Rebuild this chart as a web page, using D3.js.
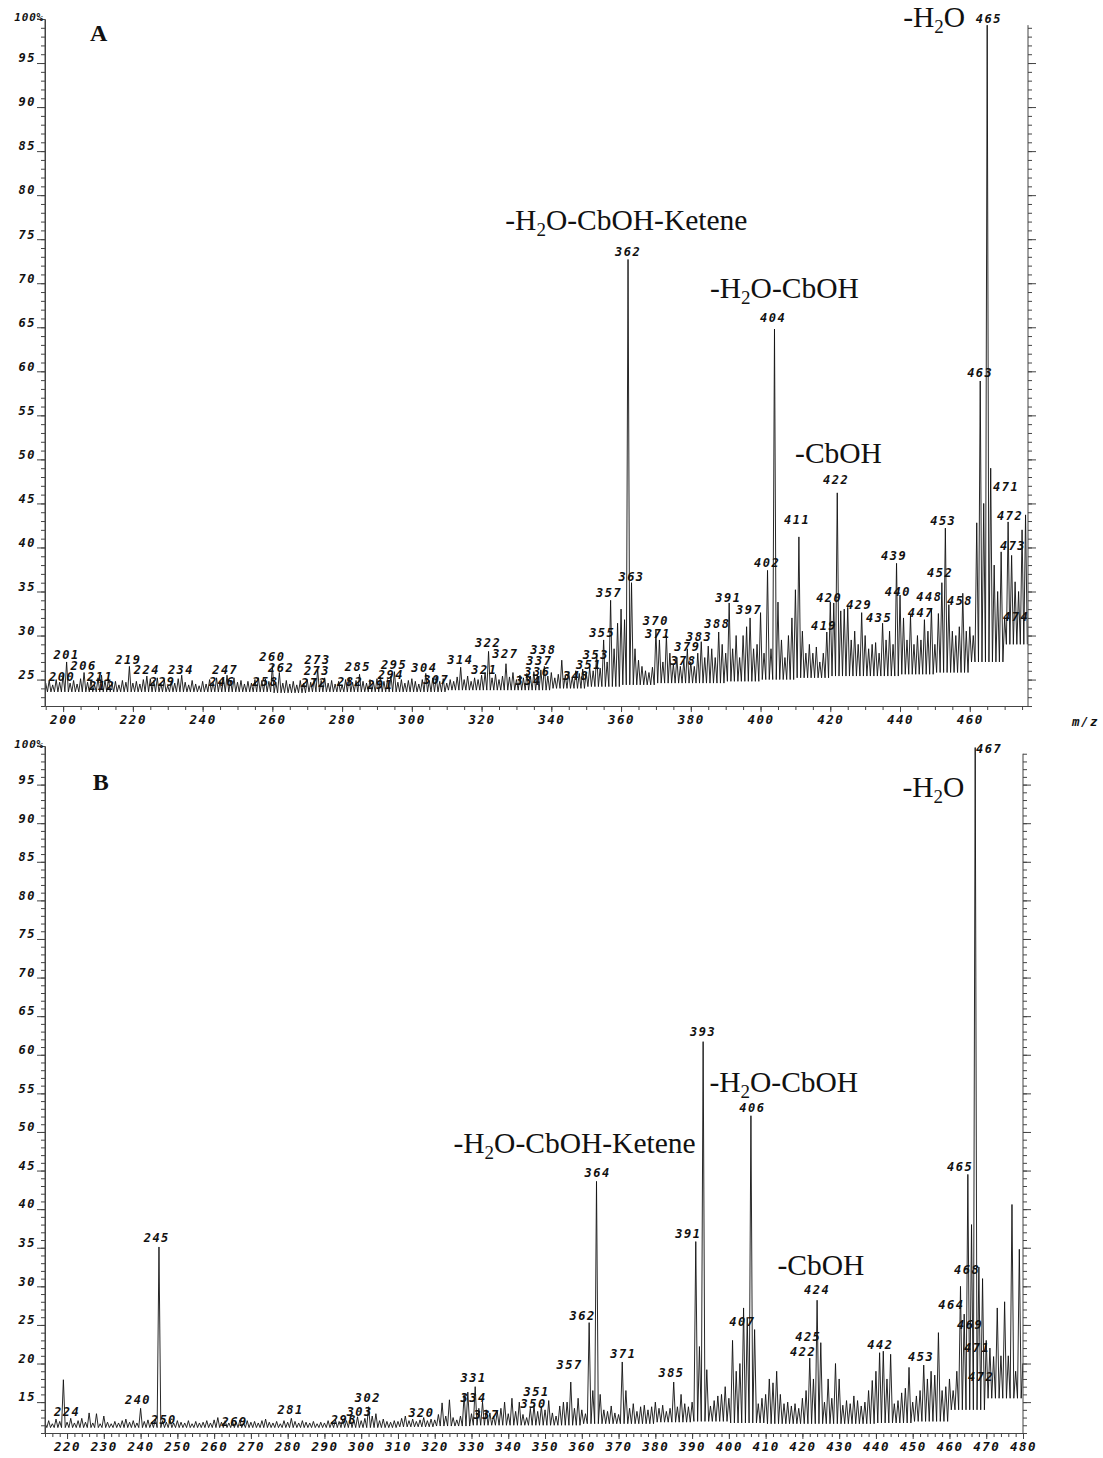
<!DOCTYPE html>
<html>
<head>
<meta charset="utf-8">
<script src="https://cdn.jsdelivr.net/npm/d3@7"></script>
<style>
body { margin:0; background:#fff; }
.tk { font-family:"DejaVu Sans Mono", monospace; font-weight:bold; font-style:italic; font-size:12px; letter-spacing:1.5px; fill:#111; }
.ann { font-family:"Liberation Serif", "Times New Roman", serif; font-size:29.5px; fill:#111; }
.let { font-family:"Liberation Serif", "Times New Roman", serif; font-size:24px; font-weight:bold; fill:#111; }
.axis path, .axis line { stroke:#444; }
</style>
</head>
<body>
<script>
// spectrum A: relative intensity (%) per integer m/z, starting at 195
const startA = 195;
const intensA = [
  24.6, 24.9, 24.4, 25.0, 24.7,
  25.6, 27.0, 24.6, 24.9, 24.5, 25.1, 25.8, 24.7, 24.9, 24.4,
  25.2, 25.5, 24.9, 25.1, 24.6, 24.8, 24.4, 24.9, 24.7, 26.5,
  24.6, 24.8, 24.5, 25.0, 25.4, 25.1, 24.9, 25.2, 24.6, 25.0,
  24.3, 24.8, 24.6, 25.1, 25.5, 24.7, 24.4, 24.9, 24.5, 24.3,
  24.8, 24.5, 25.0, 24.7, 25.2, 24.8, 25.1, 25.5, 24.9, 25.2,
  24.7, 24.9, 24.5, 24.8, 24.6, 25.0, 25.2, 24.9, 25.1, 24.8,
  26.6, 24.7, 25.8, 24.6, 24.9, 24.5, 24.8, 24.4, 24.9, 24.6,
  25.0, 24.7, 25.1, 26.2, 24.9, 25.2, 24.6, 24.9, 24.5, 24.8,
  24.4, 25.0, 25.2, 24.7, 24.9, 25.6, 24.8, 24.6, 25.0, 24.7,
  25.1, 25.3, 24.8, 25.0, 25.4, 25.9, 24.7, 25.0, 24.6, 24.9,
  25.1, 24.8, 24.5, 25.0, 25.7, 24.9, 25.2, 25.3, 24.8, 25.1,
  24.6, 25.0, 24.8, 25.3, 26.4, 25.0, 25.4, 24.8, 25.2, 25.0,
  25.5, 25.8, 28.2, 25.2, 25.6, 25.0, 25.4, 26.8, 25.3, 25.8,
  25.0, 25.5, 25.2, 25.7, 25.4, 25.9, 25.6, 26.1, 26.5, 25.4,
  25.8, 25.2, 25.6, 27.2, 25.5, 25.9, 25.3, 26.0, 25.7, 26.2,
  25.8, 26.4, 26.0, 28.0, 26.3, 29.5, 27.0, 34.0, 28.5, 31.4,
  33.0, 31.8, 72.7, 36.0, 28.5, 27.2, 26.5, 26.0, 25.8, 26.4,
  30.6, 29.5, 27.0, 30.0, 28.0, 26.8, 27.5, 26.5, 27.2, 28.5,
  27.0, 26.5, 28.0, 29.3, 27.5, 28.8, 28.5, 27.5, 30.4, 29.0,
  28.0, 33.7, 28.5, 30.0, 27.5, 30.0, 31.0, 32.0, 28.5, 29.0,
  32.6, 28.0, 37.4, 28.5, 64.8, 33.8, 29.5, 27.5, 30.0, 32.0,
  35.2, 41.2, 30.5, 28.0, 29.0, 28.0, 28.7, 27.0, 28.0, 30.4,
  33.8, 33.7, 46.2, 32.8, 33.0, 33.2, 29.5, 30.5, 29.0, 32.6,
  30.0, 28.5, 29.0, 29.2, 28.0, 31.4, 29.5, 30.5, 29.0, 38.2,
  34.6, 32.0, 29.5, 32.3, 29.0, 30.0, 29.5, 31.8, 30.5, 33.1,
  29.0, 32.5, 36.0, 42.2, 33.5, 30.5, 30.0, 31.0, 34.8, 30.5,
  31.0, 30.0, 42.8, 58.9, 45.0, 99.3, 49.0, 38.0, 35.0, 39.5,
  32.0, 42.9, 39.1, 36.1, 35.0, 42.0, 43.7
];
// valley level of the trace, one value per decade from 190
const floorStartA = 190;
const floorA = [23.6, 23.6, 23.6, 23.6, 23.6, 23.6, 23.6, 23.5, 23.6, 23.6,
  23.6, 23.6, 23.8, 23.8, 23.8, 24.0, 24.2, 24.4, 24.6, 24.6,
  24.8, 25.0, 25.2, 25.4, 25.4, 25.6, 25.8, 27.0, 29.0];
// peak labels: [text, m/z, intensity of text baseline]
const labelsA = [
  ["201",201,27.3],["200",199.7,24.8],["206",205.9,26.1],["211",210.6,24.8],["212",211.2,23.8],
  ["219",218.7,26.8],["224",224,25.6],["229",228.5,24.3],["234",233.8,25.6],["247",246.5,25.6],
  ["246",245.6,24.3],["260",260,27.1],["262",262.5,25.9],["258",258,24.3],["273",273,26.8],
  ["273",272.8,25.5],["272",272,24.2],["285",284.5,26.0],["282",282.3,24.3],["295",294.9,26.2],
  ["294",294,25.1],["291",291,23.9],["304",303.6,25.9],["307",307,24.5],["314",313.9,26.8],
  ["322",321.9,28.7],["321",320.8,25.6],["327",326.8,27.4],["338",337.7,27.9],["337",336.6,26.6],
  ["336",336,25.4],["334",333.5,24.4],["348",347.1,25.0],["351",350.8,26.2],["353",352.8,27.3],
  ["355",354.6,29.8],["357",356.6,34.4],["362",362,73.1],["363",363,36.2],["370",370,31.2],
  ["371",370.6,29.7],["379",379,28.2],["378",377.9,26.6],["383",382.4,29.4],["388",387.6,30.8],
  ["391",390.8,33.8],["397",396.7,32.4],["402",401.9,37.8],["404",403.6,65.6],["411",410.5,42.7],
  ["420",419.7,33.8],["419",418.2,30.6],["422",421.7,47.2],["429",428.3,33.0],["435",434,31.5],
  ["439",438.3,38.6],["440",439.4,34.5],["447",446,32.1],["448",448.4,33.9],["452",451.5,36.6],
  ["453",452.4,42.5],["458",457.2,33.5],["463",463,59.3],["465",465.5,99.6],["471",470.4,46.4],
  ["472",471.6,43.1],["473",472.4,39.7],["474",473.3,31.6]
];
// fragment annotations: [text, m/z of text start, intensity of baseline]
const notesA = [
  ["-H2O", 440.9, 99.1],
  ["-H2O-CbOH-Ketene", 326.8, 76.0],
  ["-H2O-CbOH", 385.5, 68.3],
  ["-CbOH", 409.9, 49.6]
];
const xTicksA = d3.range(200, 461, 20);

// spectrum B, starting at 214
const startB = 214;
const intensB = [
  12.3, 12.6, 12.2, 12.8, 12.5, 17.9,
  12.4, 12.9, 12.3, 12.6, 12.9, 12.4, 13.6, 12.3, 13.5, 12.2,
  13.2, 12.4, 12.2, 12.5, 12.3, 12.6, 12.8, 12.4, 12.6, 12.3,
  14.2, 12.5, 12.7, 12.4, 12.8, 35.1, 12.6, 12.4, 12.7, 12.3,
  12.6, 12.4, 12.3, 12.6, 12.2, 12.5, 12.3, 12.4, 12.6, 12.3,
  12.7, 13.0, 12.4, 12.6, 12.3, 12.5, 12.4, 12.7, 12.3, 12.6,
  12.4, 12.5, 12.3, 12.6, 12.8, 12.4, 12.3, 12.5, 12.2, 12.6,
  12.4, 12.9, 12.5, 12.3, 12.6, 12.4, 12.3, 12.5, 12.2, 12.4,
  12.3, 12.6, 12.4, 12.7, 12.5, 12.8, 12.6, 12.9, 12.7, 13.1,
  12.6, 12.9, 14.4, 13.2, 13.5, 12.6, 12.8, 12.5, 12.4, 12.6,
  12.5, 12.9, 13.2, 12.6, 12.8, 12.5, 12.7, 13.0, 12.6, 12.8,
  12.7, 13.4, 14.9, 13.2, 15.3, 13.0, 12.7, 13.2, 16.0, 16.3,
  13.5, 17.0, 14.2, 15.0, 14.0, 13.6, 13.2, 13.8, 14.2, 15.0,
  13.5, 15.5, 13.8, 15.0, 13.4, 13.0, 14.2, 14.6, 13.8, 14.5,
  14.0, 15.2, 13.6, 13.2, 14.5, 15.0, 15.0, 17.6, 14.2, 15.5,
  14.0, 13.5, 25.3, 16.5, 43.6, 16.0, 14.0, 13.8, 14.5, 13.6,
  13.4, 20.2, 16.5, 14.2, 14.8, 13.8, 14.4, 14.6, 14.0, 14.4,
  15.0, 14.2, 14.6, 13.8, 14.2, 17.6, 14.4, 16.0, 14.8, 14.4,
  15.0, 35.8, 22.2, 61.7, 19.2, 14.5, 15.2, 15.8, 16.0, 17.0,
  15.5, 23.0, 19.0, 20.0, 27.2, 26.0, 52.1, 24.4, 14.8, 15.5,
  16.0, 18.0, 17.5, 19.0, 16.0, 14.8, 15.0, 14.5, 14.8, 14.2,
  15.5, 16.5, 20.7, 18.0, 28.2, 22.7, 15.0, 18.0, 15.5, 20.0,
  18.0, 14.6, 15.2, 14.8, 15.8, 15.2, 14.5, 15.0, 16.5, 17.8,
  19.0, 21.4, 21.6, 18.0, 21.2, 14.8, 15.2, 16.2, 16.8, 19.5,
  15.0, 15.8, 16.5, 19.8, 18.0, 19.0, 18.5, 24.0, 16.5, 17.0,
  18.0, 16.5, 19.0, 30.0, 26.4, 44.5, 38.0, 99.8, 32.5, 31.0,
  23.0, 22.0, 20.9, 27.2, 21.0, 28.0, 21.0, 40.6, 19.0, 34.8,
  20.0
];
const floorStartB = 210;
const floorB = [11.7, 11.7, 11.7, 11.7, 11.7, 11.7, 11.7, 11.7, 11.7, 11.7,
  11.8, 11.9, 12.0, 12.0, 12.0, 12.2, 12.2, 12.4, 12.5, 12.3,
  12.2, 12.2, 12.2, 12.3, 12.5, 14.0, 15.5, 15.5];
const labelsB = [
  ["224",220,13.2],["240",239.3,14.8],["245",244.4,35.8],["250",246.3,12.2],["269",265.6,11.9],
  ["281",280.8,13.5],["298",295.3,12.2],["303",299.6,13.2],["302",301.8,15.0],["320",316.4,13.1],
  ["331",330.6,17.6],["334",330.6,15.0],["337",334.1,12.8],["351",347.7,15.8],["350",346.9,14.2],
  ["357",356.7,19.3],["362",360.2,25.7],["364",364.3,44.2],["371",371.3,20.7],["385",384.4,18.3],
  ["391",389,36.2],["393",393,62.4],["406",406.4,52.6],["407",403.7,24.9],["422",420.2,21.0],
  ["424",424,29.0],["425",421.6,22.9],["442",441.2,21.9],["453",452.3,20.3],["464",460.5,27.0],
  ["465",462.9,45.0],["467",470.8,99.1],["468",464.8,31.6],["469",465.6,24.5],["471",467.5,21.5],
  ["472",468.6,17.7]
];
const notesB = [
  ["-H2O", 447.2, 93.4],
  ["-H2O-CbOH", 394.7, 55.2],
  ["-H2O-CbOH-Ketene", 325.1, 47.3],
  ["-CbOH", 413.2, 31.5]
];
const xTicksB = d3.range(220, 481, 10);

var svg = d3.select("body").append("svg").attr("width", 1103).attr("height", 1458);

function panel(p) { //{{{
	var x = d3.scaleLinear().domain(p.xDom).range([p.left, p.right]);
	var y = d3.scaleLinear().domain(p.yDom).range([p.bottom, p.top]);
	var g = svg.append("g");

	// trace
	var cid = "clip" + p.name;
	svg.append("clipPath").attr("id", cid).append("rect")
		.attr("x", p.left).attr("y", p.top - 10)
		.attr("width", p.right - p.left).attr("height", p.bottom - p.top + 10);
	var floorAt = function(m) {
		var k = Math.floor((m - p.floorStart) / 10);
		return p.floor[Math.max(0, Math.min(p.floor.length - 1, k))];
	};
	var pts = [[p.start - 0.5, floorAt(p.start)]];
	p.inten.forEach(function(v, i) {
		var m = p.start + i;
		pts.push([m, v]);
		pts.push([m + 0.5, floorAt(m + 0.5)]);
	});
	g.append("path").datum(pts)
		.attr("clip-path", "url(#" + cid + ")")
		.attr("fill", "none").attr("stroke", "#111").attr("stroke-width", 0.9)
		.attr("d", d3.line().x(d => x(d[0])).y(d => y(d[1])));

	// left axis
	var lo = Math.ceil(p.yDom[0]);
	g.append("g").attr("class", "axis").attr("transform", "translate(" + p.left + ",0)")
		.call(d3.axisLeft(y).tickValues(d3.range(lo, 101)).tickSize(4).tickSizeOuter(0).tickFormat(""));
	var ly = g.append("g").attr("class", "axis").attr("transform", "translate(" + p.left + ",0)")
		.call(d3.axisLeft(y).tickValues(d3.range(p.yLab0, 101, 5)).tickSize(8).tickSizeOuter(0).tickPadding(1)
			.tickFormat(d => d === 100 ? "100%" : d));
	ly.selectAll(".tick text").attr("class", "tk").attr("dy", "-0.1em")
		.filter(d => d === 100).style("font-size", "11px").style("letter-spacing", "0.8px").attr("x", -1).attr("dy", "0.15em");
	ly.select(".domain").attr("d", "M0," + y(100) + "V" + p.bottom);

	// right axis
	var ry = g.append("g").attr("class", "axis").attr("transform", "translate(" + p.right + ",0)")
		.call(d3.axisRight(y).tickValues(d3.range(lo, 100)).tickSize(4).tickSizeOuter(0).tickFormat(""));
	ry.select(".domain").attr("d", "M0," + y(p.rightTop) + "V" + p.bottom);
	g.append("g").attr("class", "axis").attr("transform", "translate(" + p.right + ",0)")
		.call(d3.axisRight(y).tickValues(d3.range(p.yLab0, 100, 5)).tickSize(8).tickSizeOuter(0).tickFormat(""))
		.select(".domain").remove();

	// bottom axis
	g.append("g").attr("class", "axis").attr("transform", "translate(0," + p.bottom + ")")
		.call(d3.axisBottom(x).tickValues(p.minorX).tickSize(4).tickSizeOuter(0).tickFormat(""));
	var bx = g.append("g").attr("class", "axis").attr("transform", "translate(0," + p.bottom + ")")
		.call(d3.axisBottom(x).tickValues(p.xTicks).tickSize(6).tickSizeOuter(0).tickPadding(3));
	bx.selectAll(".tick text").attr("class", "tk").style("font-size", "12.5px");

	// peak labels
	g.selectAll(".plab").data(p.labels).enter().append("text")
		.attr("class", "tk").attr("text-anchor", "middle")
		.attr("x", d => x(d[1])).attr("y", d => y(d[2]))
		.text(d => d[0]);

	// annotations with H2O subscript
	p.notes.forEach(function(n) {
		var t = g.append("text").attr("class", "ann").attr("x", x(n[1])).attr("y", y(n[2]));
		var parts = n[0].split("2");
		t.append("tspan").text(parts[0]);
		if (parts.length > 1) {
			t.append("tspan").attr("dy", 6).style("font-size", "19px").text("2");
			t.append("tspan").attr("dy", -6).text(parts[1]);
		}
	});
	g.append("text").attr("class", "let").attr("x", x(p.letter[0])).attr("y", y(p.letter[1])).text(p.name);
	return {x: x, y: y};
}
//}}}

panel({ name: "A", start: startA, inten: intensA, floorStart: floorStartA, floor: floorA,
	labels: labelsA, notes: notesA, xTicks: xTicksA, minorX: d3.range(195, 477, 5),
	xDom: [194.8, 476.7], yDom: [22, 100], left: 45, right: 1028, top: 19, bottom: 706,
	yLab0: 25, rightTop: 99.3, letter: [207.7, 97.5] });

panel({ name: "B", start: startB, inten: intensB, floorStart: floorStartB, floor: floorB,
	labels: labelsB, notes: notesB, xTicks: xTicksB, minorX: d3.range(214, 481, 2),
	xDom: [214, 480], yDom: [11, 100], left: 45, right: 1023, top: 746, bottom: 1433,
	yLab0: 15, rightTop: 99, letter: [227.0, 94.3] });

svg.append("text").attr("class", "tk").style("font-size", "12.5px").attr("x", 1072).attr("y", 726).text("m/z");
</script>
</body>
</html>
